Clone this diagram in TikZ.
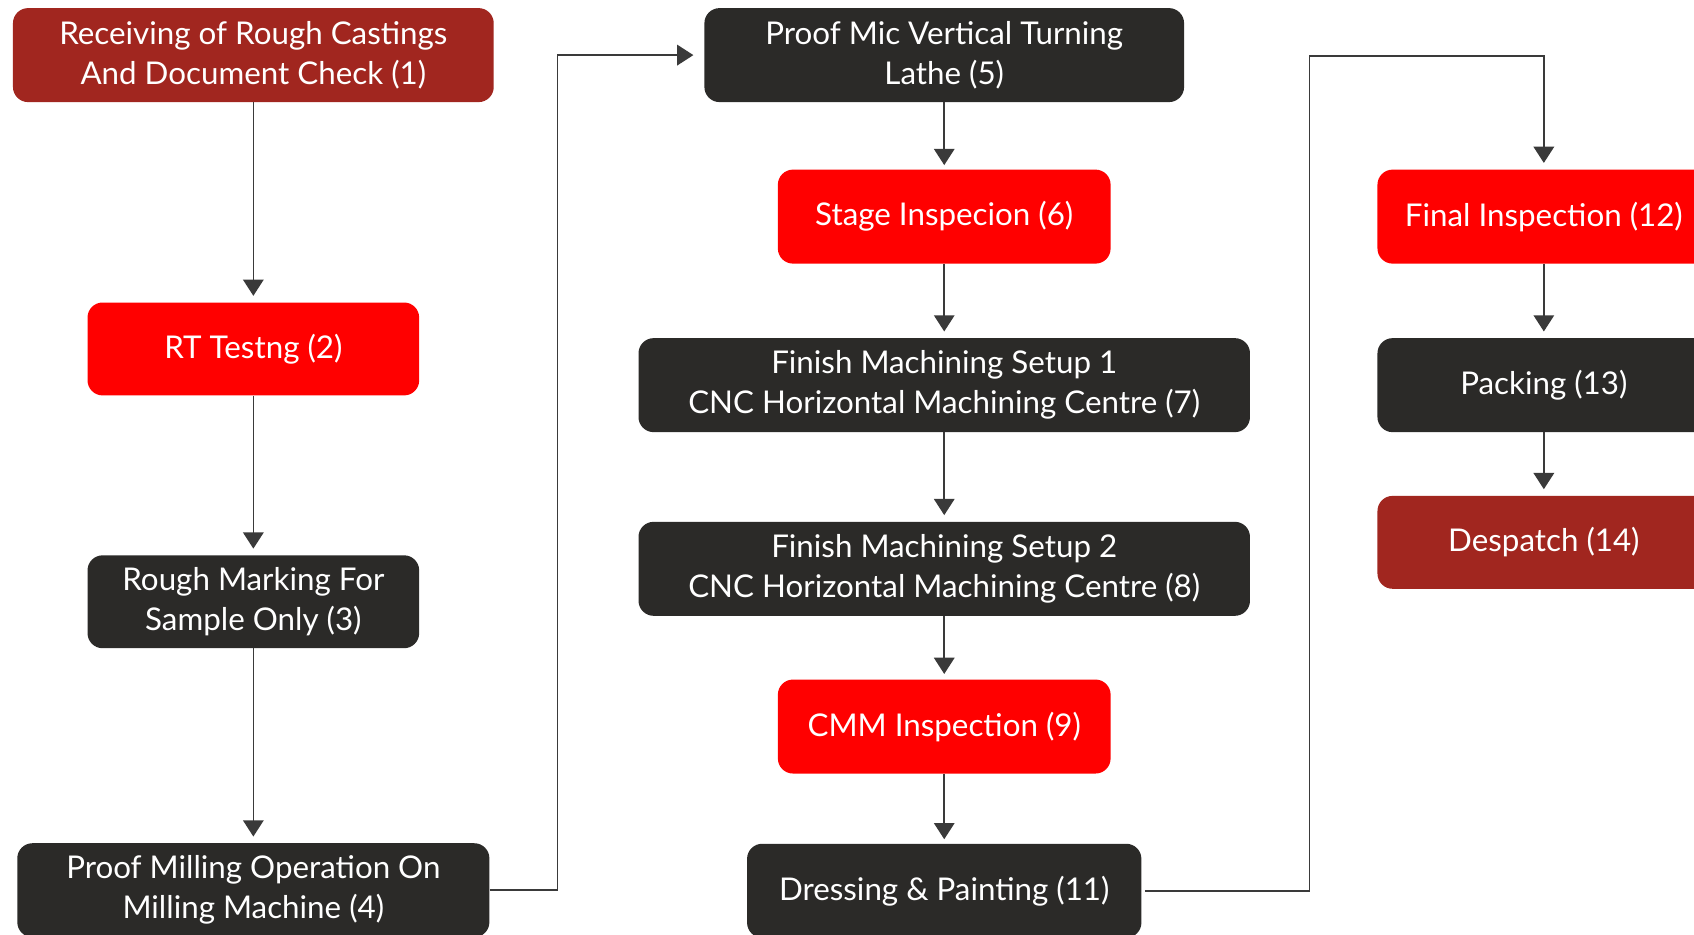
\documentclass[tikz,border=0pt]{standalone}
\usepackage{fontspec}
\setmainfont{Lato}
\usetikzlibrary{arrows.meta}
\definecolor{dkred}{HTML}{A1261F}
\definecolor{brred}{HTML}{FF0000}
\definecolor{dkgray}{HTML}{2B2A28}
\definecolor{lncol}{HTML}{3A3A3A}
\tikzset{
  box/.style={rectangle, rounded corners=14pt, inner sep=0pt, align=center,
    text=white, font=\fontsize{29}{37}\selectfont, minimum height=87pt},
  boxdr/.style={box, fill=dkred},
  boxr/.style={box, fill=brred},
  boxk/.style={box, fill=dkgray},
  arr/.style={draw=lncol, line width=1.4pt, -{Triangle[width=19pt,length=15pt]}, shorten >=6pt},
}
\begin{document}
\begin{tikzpicture}[x=1pt,y=-1pt]
\useasboundingbox (0,0) rectangle (1568,865);
\clip (0,0) rectangle (1568,865);
\fill[white] (0,0) rectangle (1568,865);
\node[boxdr, minimum width=445pt] (b1) at (234.5,51) {Receiving of Rough Castings\\And Document Check (1)};
\node[boxr, minimum width=307pt, minimum height=86pt] (b2) at (234.5,323) {RT Testng (2)};
\node[boxk, minimum width=307pt, minimum height=86pt] (b3) at (234.5,557) {Rough Marking For\\Sample Only (3)};
\node[boxk, minimum width=437pt] (b4) at (234.5,824) {Proof Milling Operation On\\Milling Machine (4)};
\node[boxk, minimum width=444pt] (b5) at (874,51) {Proof Mic Vertical Turning\\Lathe (5)};
\node[boxr, minimum width=308pt] (b6) at (874,200.5) {Stage Inspecion (6)};
\node[boxk, minimum width=566pt] (b7) at (874,356.5) {Finish Machining Setup 1\\CNC Horizontal Machining Centre (7)};
\node[boxk, minimum width=566pt] (b8) at (874,526.5) {Finish Machining Setup 2\\CNC Horizontal Machining Centre (8)};
\node[boxr, minimum width=308pt] (b9) at (874,672.5) {CMM Inspection (9)};
\node[boxk, minimum width=365pt] (b11) at (874,824.5) {Dressing \& Painting (11)};
\node[boxr, minimum width=308pt] (b12) at (1429,200.5) {Final Inspection (12)};
\node[boxk, minimum width=308pt] (b13) at (1429,356.5) {Packing (13)};
\node[boxdr, minimum width=308pt, minimum height=86pt] (b14) at (1429,502) {Despatch (14)};
\coordinate (j1) at (516,824);
\coordinate (j2) at (1212,824.5);
\coordinate (j3) at (1429,52);
\draw[arr] (b1) -- (b2);
\draw[arr] (b2) -- (b3);
\draw[arr] (b3) -- (b4);
\draw[arr, shorten >=10pt] (b4.east) -- (j1) |- (b5.west);
\draw[arr, shorten >=4pt] (b5) -- (b6);
\draw[arr] (b6) -- (b7);
\draw[arr] (b7) -- (b8);
\draw[arr, shorten >=5pt] (b8) -- (b9);
\draw[arr, shorten >=4pt] (b9) -- (b11);
\draw[arr] ([xshift=3pt]b11.east) -- (j2) |- (j3) -- (b12.north);
\draw[arr] (b12) -- (b13);
\draw[arr] (b13) -- (b14);
\end{tikzpicture}
\end{document}
